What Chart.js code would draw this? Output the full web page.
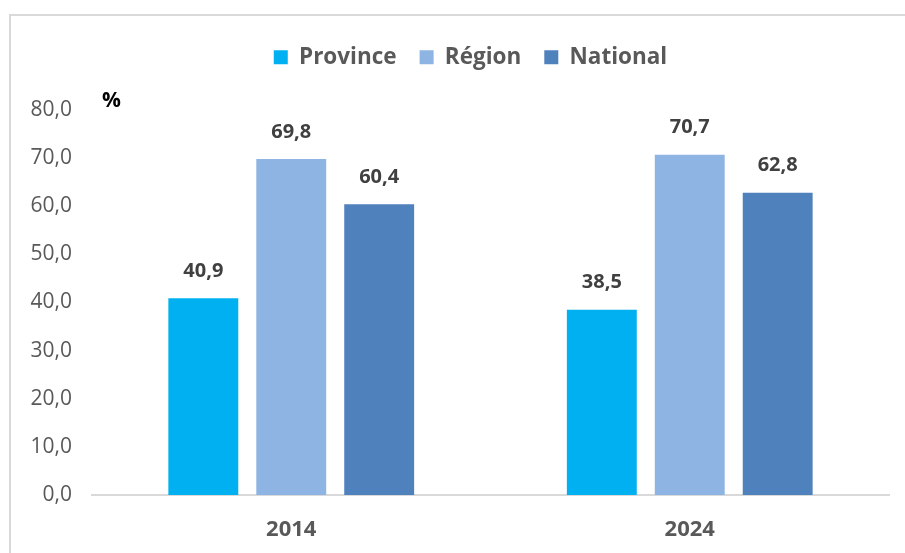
<!DOCTYPE html>
<html>
<head>
<meta charset="utf-8" />
<title>Province / Région / National</title>
<script src="https://cdn.jsdelivr.net/npm/chart.js@4.4.1/dist/chart.umd.min.js"></script>
<style>
  body { margin: 0; background: #fff; }
  #cadre { position: absolute; left: 9px; top: 14px; width: 900px; height: 560px;
           border-left: 2px solid #d9d9d9; border-top: 2px solid #d9d9d9; }
  #wrap { position: absolute; left: 0; top: 0; width: 905px; height: 553px; }
</style>
</head>
<body>
<div id="cadre"></div>
<div id="wrap"><canvas id="graphe" width="905" height="553"></canvas></div>

<script>
  // données
  var annees = ["2014", "2024"];
  var province = [40.9, 38.5];
  var region = [69.8, 70.7];
  var national = [60.4, 62.8];

  function virgule(v) {
    return v.toFixed(1).replace(".", ",");
  }

  // valeurs au-dessus des barres + le "%"
  var etiquettes = {
    id: "etiquettes",
    afterDatasetsDraw(chart) {
      var ctx = chart.ctx;
      ctx.save();
      ctx.font = "bold 20px 'Open Sans'";
      ctx.fillStyle = "#404040";
      ctx.textAlign = "center";
      ctx.textBaseline = "middle";
      chart.data.datasets.forEach((ds, i) => {
        chart.getDatasetMeta(i).data.forEach((bar, j) => {
          ctx.fillText(virgule(ds.data[j]), bar.x, bar.y - 27);
        });
      });
      ctx.font = "bold 21px 'Open Sans'";
      ctx.fillStyle = "#000";
      ctx.textAlign = "left";
      ctx.fillText("%", chart.chartArea.left + 10, chart.chartArea.top - 9);
      ctx.restore();
    }
  };

  // hauteur fixe pour la légende, et légende un peu décalée à droite
  var hauteurs = {
    id: "hauteurs",
    beforeInit(chart) {
      var fit = chart.legend.fit;
      chart.legend.fit = function () {
        fit.bind(this)();
        this.height = 87;
      };
    },
    afterLayout(chart) {
      chart.legend.left += 26;
      chart.legend.right += 26;
    }
  };

  var ctx = document.getElementById("graphe").getContext("2d");
  var graphe = new Chart(ctx, {
    type: "bar",
    data: {
      labels: annees,
      datasets: [
        { label: "Province", data: province, backgroundColor: "#00b0f0" },
        { label: "Région", data: region, backgroundColor: "#8eb4e3" },
        { label: "National", data: national, backgroundColor: "#4f81bd" }
      ]
    },
    options: {
      responsive: false,
      animation: false,
      layout: { padding: { top: 23, right: 16, left: 0, bottom: 0 } },
      datasets: { bar: { categoryPercentage: 0.662, barPercentage: 0.795 } },
      plugins: {
        tooltip: { enabled: false },
        legend: {
          position: "top",
          labels: {
            boxWidth: 14, boxHeight: 14, padding: 23,
            color: "#595959",
            font: { family: "'Open Sans'", size: 22.5, weight: "bold" }
          }
        }
      },
      scales: {
        x: {
          afterFit: s => { s.height = 58; },
          grid: { display: false },
          border: { color: "#d9d9d9", width: 2 },
          ticks: { color: "#595959", padding: 14, font: { family: "'Open Sans'", size: 22, weight: "bold" } }
        },
        y: {
          min: 0, max: 80,
          afterFit: s => { s.width = 92; },
          grid: { display: false, drawTicks: false },
          border: { display: false },
          ticks: {
            stepSize: 10, padding: 20, color: "#595959",
            font: { family: "'Open Sans'", size: 21 },
            callback: v => virgule(v)
          }
        }
      }
    },
    plugins: [etiquettes, hauteurs]
  });
</script>
</body>
</html>
